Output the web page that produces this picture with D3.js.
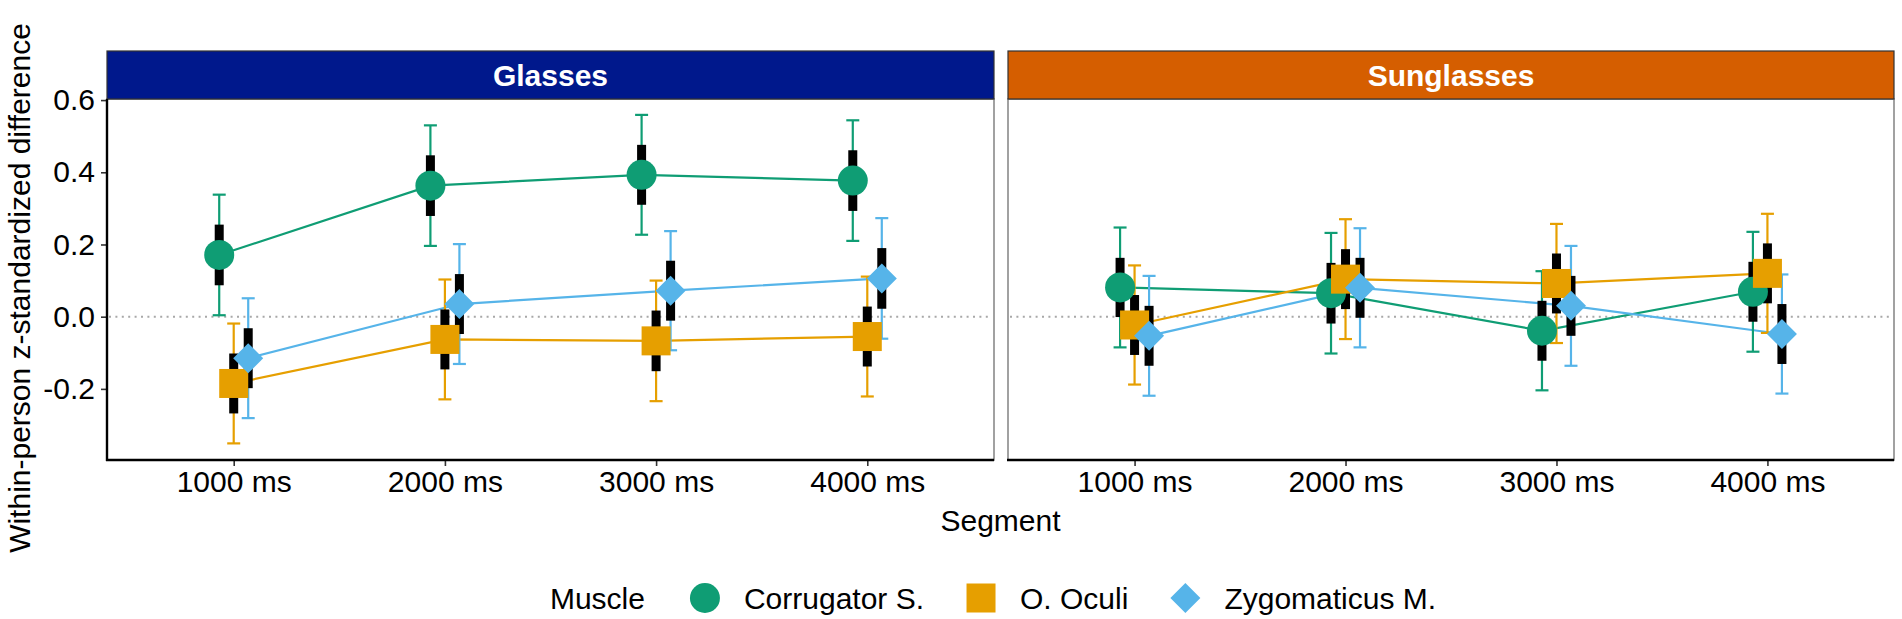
<!DOCTYPE html>
<html>
<head>
<meta charset="utf-8">
<script src="https://cdn.jsdelivr.net/npm/d3@7"></script>
<style>
  body { margin: 0; background: #fff; }
  text { font-family: "Liberation Sans", Arial, sans-serif; }
</style>
</head>
<body>
<div class="chartBox"></div>
<script>
// data
var segments   = ['1000 ms', '2000 ms', '3000 ms', '4000 ms'];
var conditions = ['Glasses', 'Sunglasses'];
var muscles    = ['Corrugator S.', 'O. Oculi', 'Zygomaticus M.'];
var yTicks     = [-0.2, 0.0, 0.2, 0.4, 0.6];

// means
var corrGlasses = [0.171, 0.363, 0.393, 0.377];
var ocGlasses   = [-0.185, -0.063, -0.067, -0.055];
var zygGlasses  = [-0.115, 0.035, 0.072, 0.106];
var corrSun     = [0.081, 0.065, -0.039, 0.069];
var ocSun       = [-0.023, 0.104, 0.092, 0.120];
var zygSun      = [-0.053, 0.080, 0.030, -0.048];

// half width of the thin whiskers (95% CI)
var corrGlassesCI = [0.167, 0.167, 0.166, 0.167];
var ocGlassesCI   = [0.166, 0.166, 0.167, 0.166];
var zygGlassesCI  = [0.166, 0.166, 0.165, 0.167];
var corrSunCI     = [0.166, 0.167, 0.165, 0.166];
var ocSunCI       = [0.165, 0.166, 0.165, 0.165];
var zygSunCI      = [0.166, 0.165, 0.166, 0.165];

// half width of the thick black bars
var corrGlassesSE = [0.084, 0.084, 0.083, 0.084];
var ocGlassesSE   = [0.083, 0.083, 0.084, 0.083];
var zygGlassesSE  = [0.083, 0.083, 0.083, 0.084];
var corrSunSE     = [0.082, 0.084, 0.083, 0.083];
var ocSunSE       = [0.083, 0.083, 0.083, 0.083];
var zygSunSE      = [0.083, 0.083, 0.083, 0.083];

var colors = {'Corrugator S.': '#0f9d74', 'O. Oculi': '#e69f00', 'Zygomaticus M.': '#56b4e9'};
var stripColors = {'Glasses': '#00188c', 'Sunglasses': '#d55e00'};

var table = {
  'Glasses': [
    [corrGlasses, corrGlassesCI, corrGlassesSE],
    [ocGlasses, ocGlassesCI, ocGlassesSE],
    [zygGlasses, zygGlassesCI, zygGlassesSE]
  ],
  'Sunglasses': [
    [corrSun, corrSunCI, corrSunSE],
    [ocSun, ocSunCI, ocSunSE],
    [zygSun, zygSunCI, zygSunSE]
  ]
};

var w = 1902, h = 619;
var fs = 30;
var panelTop = 99, panelBottom = 460, stripTop = 51;
var panels = [{name: 'Glasses', x0: 107, x1: 994}, {name: 'Sunglasses', x0: 1008, x1: 1894}];

var svg = d3.select('.chartBox')
  .append('svg')
  .attr('width', w)
  .attr('height', h);

var y = d3.scaleLinear().domain([-0.397, 0.603]).range([panelBottom, panelTop]);
var dodge = d3.scalePoint().domain(muscles).range([-14.5, 14.5]);

function shape(m, g) {
  if (m === 'Corrugator S.') {
    g.append('circle').attr('r', 15);
  } else if (m === 'O. Oculi') {
    g.append('rect').attr('x', -14.5).attr('y', -14.5).attr('width', 29).attr('height', 29);
  } else {
    g.append('path').attr('d', 'M0,-15L15,0L0,15L-15,0Z');
  }
}

panels.forEach(function(p, pi) {
  var x = d3.scalePoint().domain(segments).range([p.x0, p.x1]).padding(0.6);
  var g = svg.append('g');

  var rows = [];
  muscles.forEach(function(m, mi) {
    var s = table[p.name][mi];
    segments.forEach(function(seg, si) {
      rows.push({muscle: m, seg: seg, mean: s[0][si], ci: s[1][si], se: s[2][si]});
    });
  });

  // panel border
  g.append('rect')
    .attr('x', p.x0).attr('y', panelTop)
    .attr('width', p.x1 - p.x0).attr('height', panelBottom - panelTop)
    .attr('fill', 'none').attr('stroke', '#8a8a8a').attr('stroke-width', 1.6);

  // strip
  g.append('rect')
    .attr('x', p.x0).attr('y', stripTop)
    .attr('width', p.x1 - p.x0).attr('height', panelTop - stripTop)
    .attr('fill', stripColors[p.name]).attr('stroke', '#333').attr('stroke-width', 1.2);
  g.append('text')
    .attr('x', (p.x0 + p.x1) / 2).attr('y', (stripTop + panelTop) / 2)
    .attr('dy', '0.36em')
    .attr('text-anchor', 'middle')
    .attr('fill', '#fff').attr('font-weight', 'bold').attr('font-size', fs)
    .text(p.name);

  // zero reference line
  g.append('line')
    .attr('x1', p.x0 + 2).attr('x2', p.x1 - 2)
    .attr('y1', y(0)).attr('y2', y(0))
    .attr('stroke', '#a8a8a8').attr('stroke-width', 2)
    .attr('stroke-dasharray', '2 4.4');

  // connecting lines
  muscles.forEach(function(m) {
    var pts = rows.filter(function(d) { return d.muscle === m; });
    g.append('path')
      .datum(pts)
      .attr('fill', 'none')
      .attr('stroke', colors[m])
      .attr('stroke-width', 2.2)
      .attr('d', d3.line()
        .x(function(d) { return x(d.seg) + dodge(d.muscle); })
        .y(function(d) { return y(d.mean); }));
  });

  // whiskers
  var wk = g.selectAll('.wk').data(rows).enter().append('g')
    .attr('stroke', function(d) { return colors[d.muscle]; })
    .attr('stroke-width', 2.2);
  wk.append('line')
    .attr('x1', function(d) { return x(d.seg) + dodge(d.muscle); })
    .attr('x2', function(d) { return x(d.seg) + dodge(d.muscle); })
    .attr('y1', function(d) { return y(d.mean + d.ci); })
    .attr('y2', function(d) { return y(d.mean - d.ci); });
  [1, -1].forEach(function(sign) {
    wk.append('line')
      .attr('x1', function(d) { return x(d.seg) + dodge(d.muscle) - 6.5; })
      .attr('x2', function(d) { return x(d.seg) + dodge(d.muscle) + 6.5; })
      .attr('y1', function(d) { return y(d.mean + sign * d.ci); })
      .attr('y2', function(d) { return y(d.mean + sign * d.ci); });
  });

  // thick black bars
  g.selectAll('.se').data(rows).enter().append('rect')
    .attr('x', function(d) { return x(d.seg) + dodge(d.muscle) - 4.5; })
    .attr('width', 9)
    .attr('y', function(d) { return y(d.mean + d.se); })
    .attr('height', function(d) { return y(d.mean - d.se) - y(d.mean + d.se); })
    .attr('fill', '#000');

  // points
  g.selectAll('.pt').data(rows).enter().append('g')
    .attr('transform', function(d) {
      return 'translate(' + (x(d.seg) + dodge(d.muscle)) + ',' + y(d.mean) + ')';
    })
    .attr('fill', function(d) { return colors[d.muscle]; })
    .each(function(d) { shape(d.muscle, d3.select(this)); });

  // x axis
  var xa = g.append('g')
    .attr('transform', 'translate(0,' + panelBottom + ')')
    .call(d3.axisBottom(x).tickSize(6).tickPadding(5));
  xa.select('.domain').remove();
  xa.selectAll('.tick line').attr('stroke', '#333').attr('stroke-width', 1.6);
  xa.selectAll('.tick text').attr('font-size', fs).attr('fill', '#000')
    .style('font-family', '"Liberation Sans", Arial, sans-serif');
  g.append('line')
    .attr('x1', p.x0 - 1).attr('x2', p.x1)
    .attr('y1', panelBottom).attr('y2', panelBottom)
    .attr('stroke', '#000').attr('stroke-width', 2.4);

  if (pi === 0) {
    var ya = g.append('g')
      .attr('transform', 'translate(' + p.x0 + ',0)')
      .call(d3.axisLeft(y).tickValues(yTicks)
        .tickFormat(function(d) { return d.toFixed(1); })
        .tickSize(6).tickPadding(6));
    ya.select('.domain').remove();
    ya.selectAll('.tick line').attr('stroke', '#333').attr('stroke-width', 1.6);
    ya.selectAll('.tick text').attr('font-size', fs).attr('fill', '#000')
      .style('font-family', '"Liberation Sans", Arial, sans-serif');
    g.append('line')
      .attr('x1', p.x0).attr('x2', p.x0)
      .attr('y1', panelTop).attr('y2', panelBottom + 1)
      .attr('stroke', '#000').attr('stroke-width', 2.4);
  }
});

// axis titles
svg.append('text')
  .attr('x', (panels[0].x0 + panels[1].x1) / 2).attr('y', 531)
  .attr('text-anchor', 'middle').attr('font-size', fs)
  .text('Segment');
svg.append('text')
  .attr('transform', 'translate(30,' + 288 + ') rotate(-90)')
  .attr('text-anchor', 'middle').attr('font-size', fs)
  .text('Within-person z-standardized difference');

// legend
var leg = svg.append('g');
var legY = 598;
var cx = 0;
var title = leg.append('text').attr('x', cx).attr('y', legY).attr('dy', '0.35em')
  .attr('font-size', fs).text('Muscle');
cx += title.node().getComputedTextLength() + 45;
muscles.forEach(function(m, i) {
  var k = leg.append('g').attr('transform', 'translate(' + (cx + 15) + ',' + legY + ')')
    .attr('fill', colors[m]);
  shape(m, k);
  cx += 30 + 24;
  var t = leg.append('text').attr('x', cx).attr('y', legY).attr('dy', '0.35em')
    .attr('font-size', fs).text(m);
  cx += t.node().getComputedTextLength();
  if (i < muscles.length - 1) cx += 42;
});
leg.attr('transform', 'translate(' + (993 - cx / 2) + ',0)');
</script>
</body>
</html>
